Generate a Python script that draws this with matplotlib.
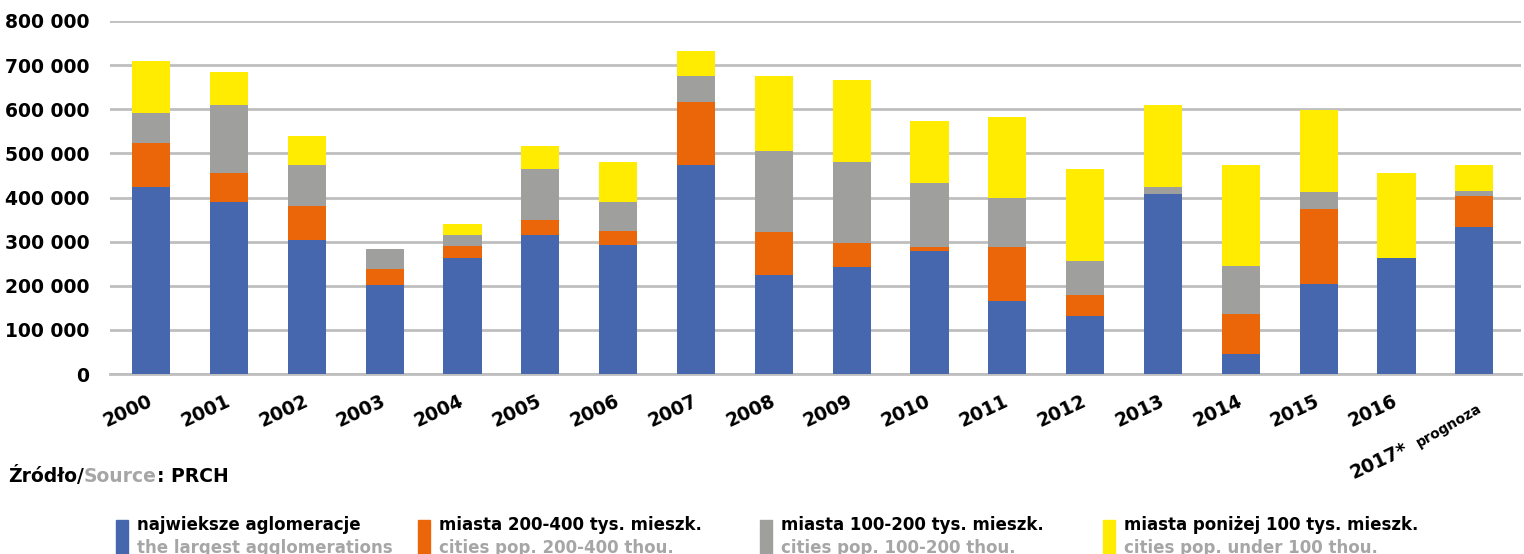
import matplotlib
matplotlib.use("Agg")
import matplotlib.pyplot as plt
import matplotlib.transforms as mtrans
from matplotlib.patches import Rectangle
import numpy as np

# data (units: dwellings)
years = ["2000", "2001", "2002", "2003", "2004", "2005", "2006", "2007", "2008",
         "2009", "2010", "2011", "2012", "2013", "2014", "2015", "2016", "2017*"]
largest = [424000, 390000, 304000, 202000, 264000, 315000, 292000, 474000, 224000,
           242000, 279000, 165000, 132000, 408000, 45000, 204000, 263000, 333000]
cities_200_400 = [99000, 65000, 77000, 36000, 25000, 35000, 33000, 143000, 98000,
                  55000, 9000, 123000, 47000, 0, 92000, 170000, 0, 70000]
cities_100_200 = [68000, 155000, 93000, 45000, 26000, 115000, 65000, 58000, 183000,
                  183000, 145000, 111000, 77000, 16000, 108000, 38000, 0, 12000]
cities_under_100 = [118000, 74000, 65000, 0, 25000, 52000, 90000, 57000, 170000,
                    186000, 140000, 183000, 209000, 186000, 229000, 186000, 192000, 59000]

series = [largest, cities_200_400, cities_100_200, cities_under_100]
colors = ["#4667AE", "#EB6608", "#9F9F9E", "#FFEC00"]
labels_pl = ["najwieksze aglomeracje", "miasta 200-400 tys. mieszk.",
             "miasta 100-200 tys. mieszk.", "miasta poniżej 100 tys. mieszk."]
labels_en = ["the largest agglomerations", "cities pop. 200-400 thou.",
             "cities pop. 100-200 thou.", "cities pop. under 100 thou."]
yticks = [0, 100000, 200000, 300000, 400000, 500000, 600000, 700000, 800000]

plt.rcParams["font.family"] = ["DejaVu Sans"]
GRAYTXT = "#A6A6A6"

fig = plt.figure(figsize=(15.24, 5.54), dpi=100)
ax = fig.add_axes([110 / 1524, 1 - 374 / 554, 1411 / 1524, 353 / 554])

x = np.arange(len(years))
bottom = np.zeros(len(years))
for vals, c in zip(series, colors):
    ax.bar(x, vals, width=0.49, bottom=bottom, color=c, zorder=3)
    bottom += np.array(vals)

ax.set_ylim(0, 800000)
ax.set_xlim(-0.53, 17.6)
ax.set_yticks(yticks)
ax.set_yticklabels([f"{v:,}".replace(",", " ") for v in yticks],
                   fontsize=13.5, fontweight="bold")
ax.yaxis.grid(True, color="#BFBFBF", linewidth=2, zorder=0)
ax.tick_params(axis="y", length=0, pad=15)
ax.tick_params(axis="x", length=0, pad=19)
for s in ["top", "right", "left"]:
    ax.spines[s].set_visible(False)
ax.spines["bottom"].set_color("#BFBFBF")
ax.spines["bottom"].set_linewidth(2)

ax.set_xticks(x)
ax.set_xticklabels(years, rotation=25, ha="right", va="center",
                   rotation_mode="anchor", fontsize=13.5, fontweight="bold")
# shift the forecast label so that "prognoza" fits after it
last = ax.get_xticklabels()[-1]
last.set_transform(last.get_transform() +
                   mtrans.ScaledTranslation(-0.67, -0.48, fig.dpi_scale_trans))
ax.text(17.08, -0.093, "prognoza", transform=ax.get_xaxis_transform(),
        rotation=30, rotation_mode="anchor", ha="right", va="center",
        fontsize=10, fontweight="bold")

# source line
base = 1 - 482 / 554
t1 = fig.text(8 / 1524, base, "Źródło/", fontsize=13.5, fontweight="bold",
              va="baseline")
fig.canvas.draw()
r = fig.canvas.get_renderer()
w1 = t1.get_window_extent(r).width
t2 = fig.text((8 + w1) / 1524, base, "Source", fontsize=13.5,
              fontweight="bold", va="baseline", color=GRAYTXT)
w2 = t2.get_window_extent(r).width
fig.text((8 + w1 + w2) / 1524, base, ": PRCH", fontsize=13.5,
         fontweight="bold", va="baseline")

# legend drawn by hand (two-colour labels)
rect_x = [116, 418, 760, 1103]
for rx, c, lp, le in zip(rect_x, colors, labels_pl, labels_en):
    fig.patches.append(Rectangle((rx / 1524, 0), 12 / 1524, 34 / 554,
                                 transform=fig.transFigure, color=c))
    fig.text((rx + 21) / 1524, 1 - 530 / 554, lp, fontsize=12,
             fontweight="bold", va="baseline")
    fig.text((rx + 21) / 1524, 1 - 553 / 554, le, fontsize=12,
             fontweight="bold", va="baseline", color=GRAYTXT)

fig.savefig("out.png", dpi=100)
